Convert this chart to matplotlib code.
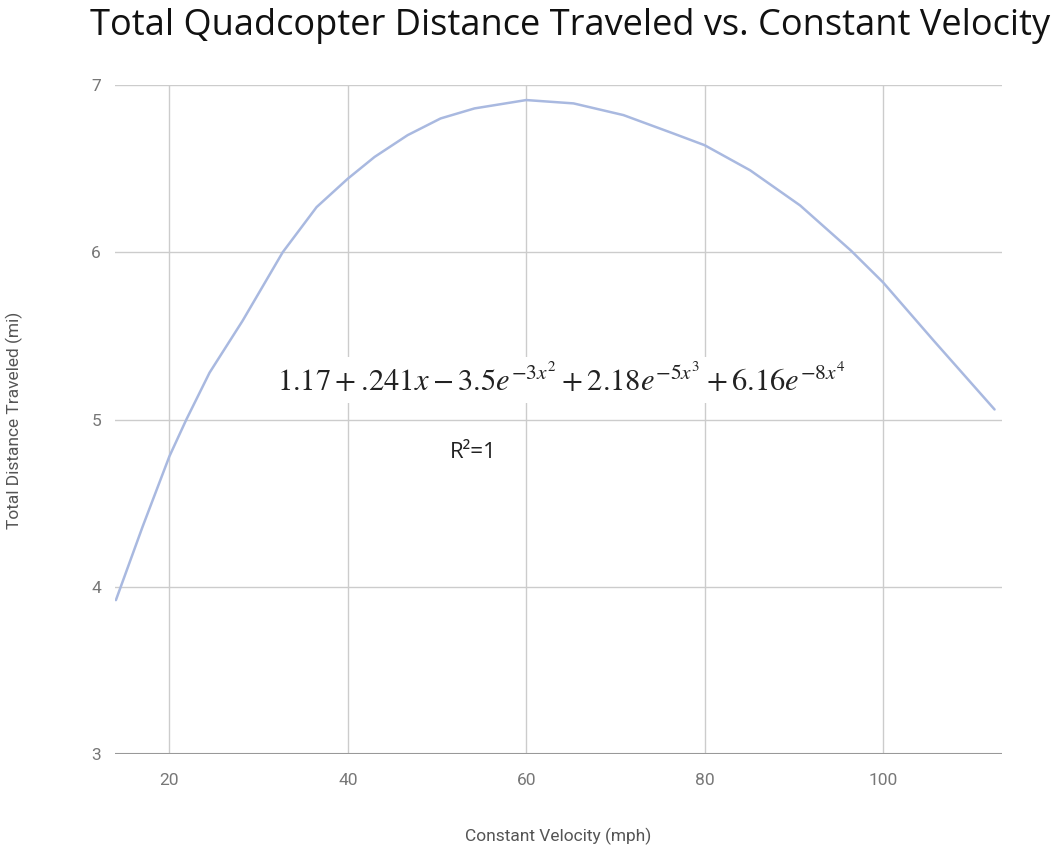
import matplotlib
matplotlib.use("Agg")
import matplotlib.pyplot as plt

# Values
velocity = [14.0, 17.0, 20, 21.9, 24.5, 28.2, 32.7, 36.5, 40, 43.0, 46.7, 50.4,
            54.2, 60, 65.3, 70.9, 76.5, 80, 85.1, 90.7, 96.4, 100, 105.7, 112.5]
distance = [3.92, 4.36, 4.78, 5.0, 5.28, 5.59, 6.0, 6.27, 6.44, 6.57, 6.70, 6.80,
            6.86, 6.91, 6.89, 6.82, 6.71, 6.64, 6.49, 6.28, 6.01, 5.82, 5.47, 5.06]
x_ticks = [20, 40, 60, 80, 100]
y_ticks = [3, 4, 5, 6, 7]

title = "Total Quadcopter Distance Traveled vs. Constant Velocity"
xlabel = "Constant Velocity (mph)"
ylabel = "Total Distance Traveled (mi)"
equation = r"$1.17 + .\!241x - 3.5e^{-3x^2} + 2.18e^{-5x^3} + 6.16e^{-8x^4}$"
r2_text = "R²=1"

fig = plt.figure(figsize=(10.56, 8.52), dpi=100)
ax = fig.add_axes([115/1056, 1-754/852, (1001.7-115)/1056, (754-85)/852])

ax.plot(velocity, distance, color="#a9b9e0", lw=1.8, solid_capstyle="round",
        solid_joinstyle="round", zorder=3)

ax.set_xlim(13.9, 113.3)
ax.set_ylim(3, 7)
ax.set_xticks(x_ticks)
ax.set_yticks(y_ticks)
ax.grid(True, color="#cccccc", lw=1.0)
ax.set_axisbelow(True)
for s in ax.spines.values():
    s.set_visible(False)
ax.axhline(3, color="#999999", lw=1.5, zorder=2)
ax.tick_params(length=0, labelcolor="#777777", labelsize=12.5)
ax.tick_params(axis="x", pad=14)
ax.tick_params(axis="y", pad=10)
for lbl in ax.get_xticklabels() + ax.get_yticklabels():
    lbl.set_family("Roboto")

fig.text(558/1056, 1-836/852, xlabel, ha="center", va="center",
         fontsize=12.5, color="#555555", family="Roboto")
fig.text(14/1056, 1-420/852, ylabel, ha="center", va="center", rotation=90,
         fontsize=12.5, color="#555555", family="Roboto")

fig.text(570/1056, 1-26/852, title, ha="center", va="center",
         fontsize=26, color="#111111", family="Open Sans")

fig.text(561/1056, 1-380/852, equation, ha="center", va="center",
         fontsize=22, color="#222222", math_fontfamily="stix",
         bbox=dict(facecolor="white", edgecolor="none", pad=4), zorder=5)
fig.text(473/1056, 1-452/852, r2_text, ha="center", va="center",
         fontsize=16, color="#222222", family="Open Sans",
         bbox=dict(facecolor="white", edgecolor="none", pad=3), zorder=5)

fig.savefig("out.png", dpi=100)
